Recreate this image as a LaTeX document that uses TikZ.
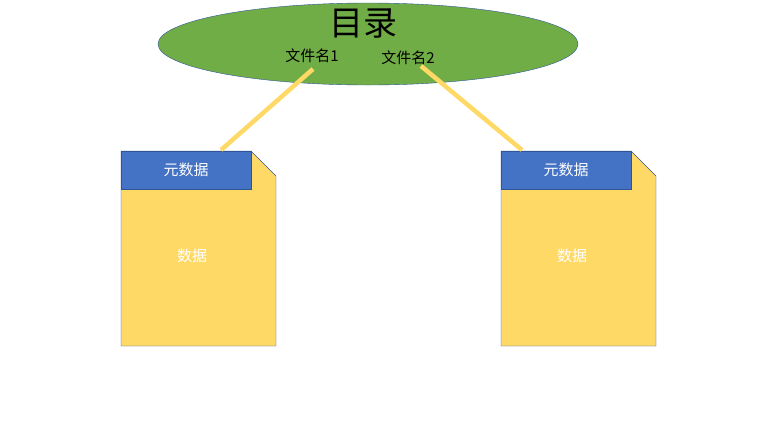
\documentclass[tikz,border=0pt]{standalone}
\usepackage{fontspec}
\usetikzlibrary{shapes.geometric}
\newfontfamily\cjk{Noto Sans CJK SC}
\definecolor{ellg}{HTML}{70AD47}
\definecolor{edge}{HTML}{2F5597}
\definecolor{docy}{HTML}{FFD966}
\definecolor{hdrb}{HTML}{4472C4}
\begin{document}
\begin{tikzpicture}[x=1pt,y=-1pt,
  link/.style={docy,line width=4.5pt},
  lbl/.style={font=\cjk\fontsize{15}{15}\selectfont,text=white}]
\useasboundingbox (0,0) rectangle (762,440);
\node[ellipse,draw=edge,fill=ellg,minimum width=420,minimum height=82,inner sep=0] (dir) at (368,44) {};
\node[font=\cjk\fontsize{34}{34}\selectfont] (t) at (363,23) {目录};
\node[font=\cjk\fontsize{15}{15}\selectfont] (f1) at (312,56) {文件名1};
\node[font=\cjk\fontsize{15}{15}\selectfont] (f2) at (408,58) {文件名2};
\foreach \dx/\n in {0/a,380/b}{
  \begin{scope}[xshift=\dx]
  \draw[edge,fill=docy] (121,151) -- (251,151) -- (276,176) -- (276,346) -- (121,346) -- cycle;
  \draw[edge,fill=hdrb] (121,151) rectangle (251,189);
  \node[lbl] (h\n) at (186,170) {元数据};
  \node[lbl] (d\n) at (192,256) {数据};
  \coordinate (top\n) at (221,150);
  \end{scope}
}
\coordinate (s1) at (313,69);
\coordinate (s2) at (421,66);
\coordinate (e2) at (522,150);
\draw[link] (s1) -- (topa);
\draw[link] (s2) -- (e2);
\end{tikzpicture}
\end{document}
